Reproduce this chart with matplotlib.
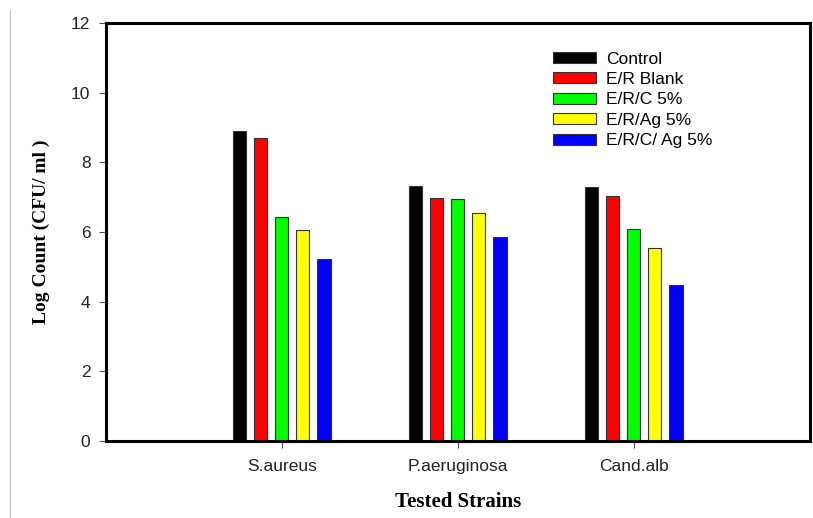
import numpy as np
import matplotlib
matplotlib.use("Agg")
import matplotlib.pyplot as plt
from matplotlib.lines import Line2D

strains = ["S.aureus", "P.aeruginosa", "Cand.alb"]
series = ["Control", "E/R Blank", "E/R/C 5%", "E/R/Ag 5%", "E/R/C/ Ag 5%"]
colors = ["#000000", "#ff0000", "#00ff00", "#ffff00", "#0000ff"]

control = [8.90, 7.33, 7.28]
er_blank = [8.70, 6.98, 7.02]
erc_5 = [6.44, 6.94, 6.08]
erag_5 = [6.06, 6.55, 5.53]
ercag_5 = [5.23, 5.85, 4.48]
values = [control, er_blank, erc_5, erag_5, ercag_5]

plt.rcParams["font.family"] = ["Liberation Sans", "DejaVu Sans"]

fig = plt.figure(figsize=(8.13, 5.18), dpi=100)
ax = fig.add_axes([0.130, 0.1486, 0.866, 0.807])

x = np.arange(len(strains))
step = 0.12
width = 0.075
for i, (name, vals, c) in enumerate(zip(series, values, colors)):
    ax.bar(x + (i - 2) * step, vals, width=width, color=c,
           edgecolor="#333333", linewidth=0.8, label=name)

ax.set_xlim(-1, 3)
ax.set_ylim(0, 12)
ax.set_yticks(range(0, 13, 2))
ax.set_xticks(x)
ax.set_xticklabels(strains)

for s in ax.spines.values():
    s.set_linewidth(2.2)
ax.tick_params(axis="both", direction="out", length=5, width=0.8,
               color="#555555", labelsize=12.5, labelcolor="#222222")
ax.tick_params(axis="x", pad=8)
ax.tick_params(axis="y", pad=6)

ax.set_xlabel("Tested Strains", family="Liberation Serif",
              fontweight="bold", fontsize=15, labelpad=13)
ax.set_ylabel("Log Count (CFU/ ml )", family="Liberation Serif",
              fontweight="bold", fontsize=14, labelpad=15)

ax.legend(loc="upper left", bbox_to_anchor=(0.625, 0.948), frameon=False,
          fontsize=12.5, handlelength=2.5, handleheight=0.6,
          handletextpad=0.6, labelspacing=0.31, borderaxespad=0)

# thin gray border line at far left of the original image
fig.add_artist(Line2D([10 / 813, 10 / 813], [0, 1 - 10 / 518],
                      color="#c8c8c8", linewidth=1))

fig.savefig("out.png", dpi=100)
